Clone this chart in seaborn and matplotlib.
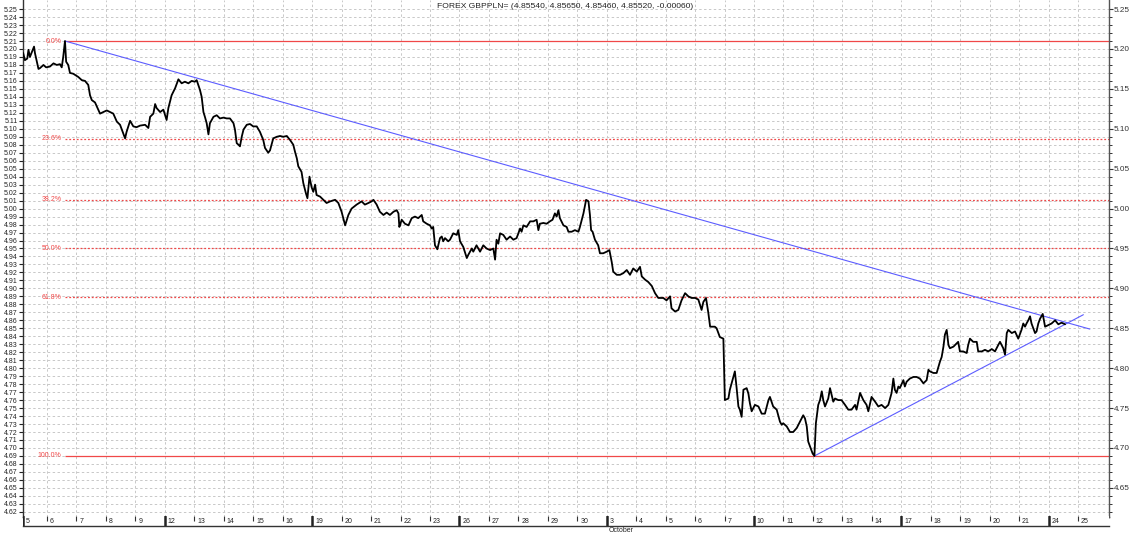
import numpy as np
import pandas as pd
import matplotlib
matplotlib.use("Agg")
import matplotlib.pyplot as plt
import seaborn as sns
from matplotlib.ticker import FixedLocator

title = "FOREX GBPPLN= (4.85540, 4.85650, 4.85460, 4.85520, -0.00060)"

# trading days on the x axis (Sep 5 .. Oct 25), index = day number
day_labels = ["5", "6", "7", "8", "9", "12", "13", "14", "15", "16",
              "19", "20", "21", "22", "23", "26", "27", "28", "29", "30",
              "3", "4", "5", "6", "7", "10", "11", "12", "13", "14",
              "17", "18", "19", "20", "21", "24", "25"]
monday_idx = [0, 5, 10, 15, 20, 25, 30, 35]
month_name = "October"
month_idx = 20

# price path (day position, price)
session_day = [
    0.19, 0.25, 0.33, 0.37, 0.42, 0.56, 0.59, 0.71, 0.76, 0.88,
    0.97, 1.10, 1.22, 1.33, 1.44, 1.50, 1.55, 1.61, 1.65, 1.72,
    1.78, 1.89, 2.06, 2.18, 2.29, 2.40, 2.46, 2.52, 2.63, 2.74,
    2.80, 2.91, 3.03, 3.14, 3.25, 3.37, 3.48, 3.59, 3.65, 3.70,
    3.82, 3.93, 4.04, 4.16, 4.33, 4.44, 4.50, 4.61, 4.67, 4.72,
    4.84, 4.95, 5.06, 5.12, 5.23, 5.35, 5.46, 5.57, 5.68, 5.80,
    5.91, 6.02, 6.08, 6.19, 6.25, 6.31, 6.36, 6.42, 6.48, 6.53,
    6.65, 6.76, 6.87, 6.99, 7.10, 7.21, 7.33, 7.38, 7.44, 7.50,
    7.55, 7.61, 7.67, 7.78, 7.89, 8.00, 8.12, 8.23, 8.34, 8.40,
    8.51, 8.57, 8.68, 8.80, 8.91, 9.02, 9.14, 9.25, 9.36, 9.42,
    9.48, 9.53, 9.64, 9.70, 9.79, 9.84, 9.91, 9.98, 10.04, 10.10,
    10.15, 10.27, 10.38, 10.49, 10.61, 10.78, 10.89, 11.00, 11.12, 11.23,
    11.34, 11.51, 11.68, 11.79, 11.91, 12.02, 12.08, 12.19, 12.30, 12.42,
    12.53, 12.64, 12.76, 12.87, 12.93, 12.96,
    12.98, 13.04, 13.15, 13.27, 13.38, 13.49, 13.60, 13.72, 13.77, 13.89,
    14.00, 14.06, 14.11, 14.17, 14.25, 14.34, 14.40, 14.45, 14.51, 14.62,
    14.68, 14.79, 14.91, 14.96, 15.02, 15.13, 15.25, 15.30, 15.42, 15.47,
    15.58, 15.64, 15.70, 15.81, 15.92, 16.04, 16.15, 16.21, 16.26, 16.32,
    16.38, 16.49, 16.60, 16.72, 16.83, 16.94, 17.06, 17.11, 17.17, 17.28,
    17.40, 17.51, 17.62, 17.68, 17.73, 17.85, 17.96, 18.07, 18.16, 18.24,
    18.30, 18.36, 18.41, 18.53, 18.64, 18.70, 18.81, 18.92, 19.04, 19.09,
    19.21, 19.30, 19.38, 19.43, 19.47, 19.52, 19.60, 19.71, 19.77, 19.88,
    20.00, 20.09, 20.17, 20.22, 20.34, 20.45, 20.56, 20.68, 20.79, 20.90,
    21.02, 21.13, 21.19, 21.30, 21.41, 21.53, 21.64, 21.75, 21.92, 22.03,
    22.15, 22.20, 22.32, 22.43, 22.54, 22.66, 22.77, 22.88, 23.00, 23.11,
    23.22, 23.28, 23.37, 23.45, 23.51, 23.67, 23.73, 23.84, 23.96, 24.01,
    24.13, 24.18, 24.30, 24.35, 24.41, 24.47, 24.52, 24.58, 24.64, 24.75,
    24.81, 24.86, 24.92, 25.03, 25.15, 25.26, 25.37, 25.49, 25.54, 25.65,
    25.77,
    25.88, 25.94, 25.99, 26.11, 26.22, 26.33, 26.45, 26.56, 26.67, 26.73,
    26.79, 26.84, 26.90, 26.99, 27.05, 27.10, 27.18, 27.24, 27.30, 27.35,
    27.41, 27.52, 27.58, 27.64, 27.69, 27.75, 27.86, 27.97, 28.09, 28.20,
    28.31, 28.43, 28.48, 28.60, 28.71, 28.82, 28.88, 28.99, 29.11, 29.22,
    29.33, 29.45, 29.56, 29.67, 29.73, 29.78, 29.84, 29.90, 29.95, 30.07,
    30.12, 30.18, 30.29, 30.41, 30.52, 30.63, 30.75, 30.86, 30.92, 30.97,
    31.09, 31.20, 31.31, 31.37, 31.43, 31.48, 31.54, 31.60, 31.65, 31.77,
    31.88, 31.93, 31.99, 32.10, 32.22, 32.27, 32.33, 32.44, 32.56, 32.61,
    32.73, 32.84, 32.95, 33.07, 33.18, 33.29, 33.35, 33.46, 33.52, 33.58,
    33.63, 33.75, 33.86, 33.97, 34.08, 34.14, 34.20, 34.25, 34.31, 34.37,
    34.42, 34.54, 34.59, 34.65, 34.71, 34.80, 34.88, 34.99, 35.10, 35.22,
    35.33, 35.44, 35.56,
]
gbppln = [
    5.195, 5.186, 5.188, 5.199, 5.190, 5.203, 5.195, 5.175, 5.176, 5.180,
    5.177, 5.178, 5.182, 5.180, 5.181, 5.177, 5.190, 5.210, 5.184, 5.180,
    5.170, 5.169, 5.165, 5.161, 5.160, 5.155, 5.142, 5.136, 5.133, 5.124,
    5.119, 5.121, 5.123, 5.121, 5.119, 5.109, 5.105, 5.094, 5.088, 5.096,
    5.110, 5.103, 5.102, 5.104, 5.105, 5.101, 5.115, 5.119, 5.131, 5.126,
    5.121, 5.124, 5.111, 5.126, 5.142, 5.151, 5.162, 5.157, 5.159, 5.157,
    5.160, 5.159, 5.161, 5.149, 5.140, 5.121, 5.115, 5.107, 5.093, 5.107,
    5.115, 5.117, 5.113, 5.114, 5.113, 5.113, 5.107, 5.099, 5.082, 5.080,
    5.078, 5.090, 5.099, 5.105, 5.106, 5.103, 5.103, 5.096, 5.086, 5.076,
    5.070, 5.073, 5.088, 5.090, 5.091, 5.090, 5.091, 5.086, 5.080, 5.071,
    5.063, 5.053, 5.046, 5.032, 5.019, 5.013, 5.040, 5.027, 5.021, 5.030,
    5.017, 5.015, 5.011, 5.007, 5.009, 5.011, 5.007, 4.996, 4.979, 4.992,
    5.000, 5.005, 5.009, 5.005, 5.007, 5.009, 5.011, 5.005, 4.996, 4.992,
    4.995, 4.992, 4.996, 4.998, 4.994, 4.977,
    4.979, 4.986, 4.981, 4.979, 4.988, 4.990, 4.988, 4.992, 4.984, 4.981,
    4.979, 4.975, 4.977, 4.954, 4.949, 4.963, 4.965, 4.959, 4.963, 4.959,
    4.961, 4.969, 4.967, 4.973, 4.959, 4.952, 4.938, 4.942, 4.950, 4.946,
    4.954, 4.950, 4.946, 4.954, 4.950, 4.948, 4.950, 4.936, 4.961, 4.956,
    4.969, 4.967, 4.961, 4.965, 4.961, 4.963, 4.975, 4.971, 4.979, 4.977,
    4.984, 4.984, 4.986, 4.973, 4.981, 4.982, 4.981, 4.984, 4.986, 4.994,
    4.990, 4.998, 4.988, 4.979, 4.977, 4.971, 4.971, 4.973, 4.971, 4.977,
    4.994, 5.011, 5.009, 4.992, 4.973, 4.971, 4.961, 4.954, 4.944, 4.944,
    4.946, 4.948, 4.933, 4.921, 4.917, 4.917, 4.919, 4.923, 4.917, 4.925,
    4.921, 4.927, 4.915, 4.911, 4.908, 4.903, 4.894, 4.888, 4.888, 4.885,
    4.890, 4.875, 4.871, 4.873, 4.885, 4.894, 4.890, 4.888, 4.888, 4.886,
    4.873, 4.883, 4.888, 4.869, 4.852, 4.852, 4.850, 4.839, 4.837, 4.760,
    4.762, 4.773, 4.789, 4.796, 4.775, 4.752, 4.748, 4.739, 4.773, 4.775,
    4.768, 4.756, 4.746, 4.754, 4.752, 4.743, 4.743, 4.760, 4.764, 4.752,
    4.748,
    4.733, 4.729, 4.731, 4.727, 4.720, 4.720, 4.725, 4.733, 4.741, 4.737,
    4.727, 4.708, 4.702, 4.693, 4.690, 4.731, 4.754, 4.760, 4.771, 4.760,
    4.752, 4.762, 4.775, 4.766, 4.758, 4.762, 4.760, 4.760, 4.754, 4.748,
    4.748, 4.754, 4.748, 4.769, 4.760, 4.754, 4.746, 4.764, 4.758, 4.752,
    4.754, 4.750, 4.754, 4.769, 4.787, 4.773, 4.769, 4.777, 4.775, 4.785,
    4.777, 4.783, 4.787, 4.789, 4.789, 4.787, 4.781, 4.785, 4.798, 4.796,
    4.794, 4.794, 4.808, 4.814, 4.827, 4.842, 4.848, 4.829, 4.825, 4.827,
    4.831, 4.833, 4.821, 4.821, 4.819, 4.829, 4.837, 4.833, 4.833, 4.821,
    4.821, 4.823, 4.821, 4.824, 4.821, 4.829, 4.833, 4.825, 4.817, 4.844,
    4.848, 4.844, 4.846, 4.837, 4.848, 4.856, 4.852, 4.856, 4.860, 4.865,
    4.856, 4.844, 4.846, 4.856, 4.862, 4.868, 4.852, 4.854, 4.856, 4.860,
    4.855, 4.857, 4.855,
]

# fibonacci retracement between the swing high and swing low
fib_ratios = [0.0, 0.236, 0.382, 0.5, 0.618, 1.0]
fib_names = ["0.0%", "23.6%", "38.2%", "50.0%", "61.8%", "100.0%"]
swing_high, swing_low = 5.21, 4.69
swing_high_day = 1.61

# trend lines (day, price) at both ends
down_trend_day = [1.61, 36.40]
down_trend_px = [5.210, 4.849]
up_trend_day = [27.05, 36.18]
up_trend_px = [4.690, 4.867]

df = pd.DataFrame({"day": session_day, "price": gbppln})

sns.set_theme(style="white")
plt.rcParams["font.family"] = ["Liberation Sans", "DejaVu Sans"]

W, H = 1130, 533
fig = plt.figure(figsize=(W / 100, H / 100), dpi=100)
ax = fig.add_axes([23 / W, 16 / H, 1086 / W, 517 / H])

x0, x1 = 0.185, 37.05
y0, y1 = 4.6135, 5.2614
red = "#f04848"
blue = "#5c5cff"
gridc = "#c8c8c8"

# grid: every cent and every day
for lv in np.arange(4.62, 5.2551, 0.01):
    ax.axhline(lv, color=gridc, lw=0.7, ls=(0, (2.5, 2.5)), zorder=0)
for k in range(len(day_labels)):
    ax.axvline(k, color=gridc, lw=0.7, ls=(0, (2.5, 2.5)), zorder=0)

# fib levels
rng = swing_high - swing_low
for r, name in zip(fib_ratios, fib_names):
    lv = swing_high - r * rng
    ls = "-" if r in (0.0, 1.0) else (0, (1.5, 1.5))
    ax.hlines(lv, swing_high_day, x1, color=red, lw=0.9, ls=ls, zorder=2)
    ax.text(swing_high_day - 0.12, lv, name, color=red, fontsize=5,
            ha="right", va="center", zorder=3)

ax.plot(down_trend_day, down_trend_px, color=blue, lw=0.8, zorder=3)
ax.plot(up_trend_day, up_trend_px, color=blue, lw=0.8, zorder=3)

sns.lineplot(data=df, x="day", y="price", ax=ax, color="black", lw=1.3,
             sort=False, estimator=None, zorder=4)

ax.set_xlim(x0, x1)
ax.set_ylim(y0, y1)
ax.set_xlabel("")
ax.set_ylabel("")
ax.set_xticks([])
left_ticks = np.round(np.arange(4.62, 5.2551, 0.01), 2)
ax.set_yticks(left_ticks)
ax.set_yticklabels([f"{v:.2f}" for v in left_ticks])
ax.tick_params(axis="y", direction="out", length=3, width=0.8, pad=1,
               labelsize=5, left=True, colors="#222222")
for s in ["top", "right"]:
    ax.spines[s].set_visible(False)
ax.spines["left"].set_color("#333333")
ax.spines["left"].set_linewidth(1.0)
ax.spines["bottom"].set_color("#111111")
ax.spines["bottom"].set_linewidth(1.0)

# right price scale
ax2 = ax.twinx()
ax2.set_ylim(y0, y1)
right_ticks = np.round(np.arange(4.65, 5.2551, 0.05), 2)
ax2.yaxis.set_major_locator(FixedLocator(right_ticks))
ax2.yaxis.set_minor_locator(FixedLocator(left_ticks))
ax2.set_yticklabels([f"{v:.2f}" for v in right_ticks])
ax2.tick_params(axis="y", which="major", direction="out", length=3,
                width=0.8, pad=0.3, labelsize=5.9, colors="#333333")
ax2.tick_params(axis="y", which="minor", direction="out", length=2,
                width=0.7, colors="#333333")
ax2.grid(False)
for s in ["top", "left", "bottom"]:
    ax2.spines[s].set_visible(False)
ax2.spines["right"].set_color("#555555")
ax2.spines["right"].set_linewidth(1.0)

# date strip under the plot
strip = fig.add_axes([23 / W, 7 / H, 1086 / W, 10 / H])
strip.set_xlim(x0, x1)
strip.set_ylim(0, 1)
strip.set_xticks([])
strip.set_yticks([])
strip.set_facecolor("white")
for s in ["left", "right", "top"]:
    strip.spines[s].set_visible(False)
strip.spines["bottom"].set_color("#333333")
strip.spines["bottom"].set_linewidth(1.0)
for k, lab in enumerate(day_labels):
    pos = max(k, x0)
    if k in monday_idx:
        strip.axvline(pos, color="#222222", lw=1.8)
    else:
        strip.vlines(pos, 0.55, 1.0, color="#333333", lw=0.8)
    strip.text(pos + 0.1, 0.45, lab, fontsize=5, ha="left", va="center",
               color="#222222")
strip.text(month_idx + 0.05, -0.15, month_name, fontsize=5, ha="left",
           va="top", color="#222222", clip_on=False)

fig.text(0.5, 1 - 6 / H, title, ha="center", va="center", fontsize=6.1,
         color="#222222")

fig.savefig("out.png", dpi=100)
